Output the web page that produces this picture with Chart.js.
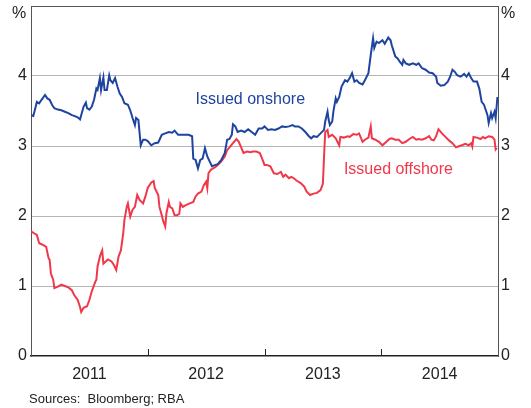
<!DOCTYPE html>
<html>
<head>
<meta charset="utf-8">
<script src="https://cdn.jsdelivr.net/npm/chart.js@4.4.0/dist/chart.umd.min.js"></script>
<style>
  html, body { margin: 0; padding: 0; background: #fff; }
  #wrap { position: relative; width: 531px; height: 408px; }
  #note { position: absolute; left: 29px; top: 391px; font: 13px "Liberation Sans", Arial, sans-serif; color: #222; white-space: pre; }
</style>
</head>
<body>
<div id="wrap">
  <canvas id="chart"></canvas>
  <div id="note">Sources:  Bloomberg; RBA</div>
</div>
<script>
const FONT = '"Liberation Sans", Arial, sans-serif';
const INK = "#222";
const BLUE = "#1f44a0";
const RED = "#f0384a";

const yearLabels = [2011, 2012, 2013, 2014];
const yearBreaks = [2012, 2013, 2014];

// yields, per cent; dates as decimal years
const onshoreDates = [
  2011.00, 2011.02, 2011.04, 2011.05, 2011.07, 2011.09, 2011.12, 2011.14, 2011.16, 2011.18,
  2011.20, 2011.23, 2011.26, 2011.29, 2011.32, 2011.35, 2011.37, 2011.40, 2011.42, 2011.43,
  2011.45, 2011.47, 2011.48, 2011.50, 2011.52, 2011.54, 2011.56, 2011.57, 2011.59, 2011.60,
  2011.62, 2011.63, 2011.65, 2011.67, 2011.68, 2011.70, 2011.72, 2011.74, 2011.76, 2011.78,
  2011.80, 2011.83, 2011.85, 2011.87, 2011.89, 2011.90, 2011.92, 2011.94, 2011.96, 2011.98,
  2012.00, 2012.03, 2012.06, 2012.09, 2012.12, 2012.15, 2012.18, 2012.21, 2012.23, 2012.26,
  2012.29, 2012.32, 2012.35, 2012.38, 2012.39, 2012.41, 2012.43, 2012.45, 2012.47, 2012.49,
  2012.51, 2012.53, 2012.55, 2012.58, 2012.60, 2012.63, 2012.66, 2012.68, 2012.70, 2012.72,
  2012.73, 2012.75, 2012.77, 2012.80, 2012.83, 2012.86, 2012.89, 2012.92, 2012.95, 2012.98,
  2013.00, 2013.03, 2013.06, 2013.09, 2013.12, 2013.15, 2013.18, 2013.21, 2013.24, 2013.26,
  2013.29, 2013.32, 2013.35, 2013.38, 2013.40, 2013.42, 2013.45, 2013.48, 2013.51, 2013.52,
  2013.54, 2013.55, 2013.56, 2013.58, 2013.59, 2013.61, 2013.62, 2013.64, 2013.66, 2013.69,
  2013.71, 2013.73, 2013.75, 2013.77, 2013.79, 2013.81, 2013.84, 2013.86, 2013.89, 2013.91,
  2013.93, 2013.94, 2013.96, 2013.98, 2014.01, 2014.03, 2014.06, 2014.08, 2014.09, 2014.12,
  2014.14, 2014.16, 2014.18, 2014.19, 2014.21, 2014.24, 2014.27, 2014.30, 2014.32, 2014.35,
  2014.38, 2014.41, 2014.44, 2014.47, 2014.48, 2014.51, 2014.54, 2014.57, 2014.59, 2014.61,
  2014.63, 2014.65, 2014.68, 2014.71, 2014.73, 2014.75, 2014.77, 2014.79, 2014.82, 2014.84,
  2014.86, 2014.88, 2014.89, 2014.91, 2014.92, 2014.94, 2014.95, 2014.97, 2014.98, 2014.995
];
const onshoreYields = [
  3.44, 3.43, 3.56, 3.63, 3.61, 3.66, 3.73, 3.68, 3.66, 3.59,
  3.54, 3.52, 3.51, 3.49, 3.47, 3.44, 3.43, 3.41, 3.38, 3.44,
  3.56, 3.62, 3.54, 3.52, 3.56, 3.66, 3.82, 3.80, 3.97, 3.80,
  3.98, 3.80, 3.80, 4.01, 3.94, 3.90, 3.97, 3.85, 3.75, 3.70,
  3.61, 3.59, 3.51, 3.40, 3.30, 3.40, 3.37, 3.01, 3.09, 3.09,
  3.07, 3.01, 3.04, 3.05, 3.16, 3.18, 3.20, 3.19, 3.22, 3.16,
  3.16, 3.16, 3.16, 3.14, 2.82, 2.80, 2.68, 2.80, 2.82, 2.97,
  2.85, 2.78, 2.71, 2.73, 2.74, 2.80, 2.90, 3.09, 3.10, 3.16,
  3.31, 3.28, 3.20, 3.22, 3.20, 3.24, 3.20, 3.16, 3.25, 3.25,
  3.28, 3.23, 3.24, 3.23, 3.25, 3.28, 3.27, 3.28, 3.30, 3.28,
  3.28, 3.25, 3.20, 3.14, 3.11, 3.14, 3.13, 3.18, 3.23, 3.35,
  3.49, 3.37, 3.30, 3.35, 3.49, 3.68, 3.63, 3.70, 3.85, 3.94,
  3.92, 3.97, 4.04, 3.92, 3.94, 3.90, 3.88, 3.94, 4.04, 4.30,
  4.54, 4.40, 4.49, 4.47, 4.51, 4.46, 4.55, 4.51, 4.44, 4.28,
  4.25, 4.20, 4.16, 4.23, 4.18, 4.16, 4.18, 4.16, 4.18, 4.11,
  4.09, 4.05, 4.04, 3.99, 3.90, 3.86, 3.87, 3.92, 3.99, 4.09,
  4.06, 4.01, 3.99, 4.03, 3.99, 4.04, 3.97, 3.92, 3.92, 3.82,
  3.63, 3.59, 3.54, 3.44, 3.33, 3.47, 3.40, 3.49, 3.40, 3.70
];

const offshoreDates = [
  2011.00, 2011.03, 2011.05, 2011.07, 2011.10, 2011.13, 2011.15, 2011.16, 2011.17, 2011.19,
  2011.20, 2011.23, 2011.26, 2011.29, 2011.32, 2011.35, 2011.37, 2011.40, 2011.42, 2011.43,
  2011.45, 2011.48, 2011.50, 2011.52, 2011.55, 2011.56, 2011.57, 2011.59, 2011.60, 2011.61,
  2011.62, 2011.64, 2011.66, 2011.69, 2011.71, 2011.73, 2011.75, 2011.77, 2011.79, 2011.80,
  2011.82, 2011.83, 2011.85, 2011.87, 2011.89, 2011.91, 2011.93, 2011.96, 2011.98, 2012.00,
  2012.03, 2012.05, 2012.06, 2012.09, 2012.10, 2012.12, 2012.13, 2012.15, 2012.16, 2012.18,
  2012.19, 2012.21, 2012.23, 2012.25, 2012.27, 2012.28, 2012.30, 2012.33, 2012.36, 2012.39,
  2012.41, 2012.43, 2012.46, 2012.48, 2012.50, 2012.51, 2012.52, 2012.54, 2012.56, 2012.58,
  2012.60, 2012.63, 2012.66, 2012.68, 2012.70, 2012.73, 2012.76, 2012.78, 2012.80, 2012.82,
  2012.85, 2012.88, 2012.90, 2012.93, 2012.96, 2012.98, 2013.00, 2013.02, 2013.05, 2013.08,
  2013.11, 2013.14, 2013.16, 2013.18, 2013.21, 2013.23, 2013.25, 2013.28, 2013.31, 2013.34,
  2013.36, 2013.39, 2013.42, 2013.45, 2013.48, 2013.50, 2013.51, 2013.52, 2013.54, 2013.55,
  2013.58, 2013.61, 2013.64, 2013.65, 2013.68, 2013.71, 2013.73, 2013.76, 2013.79, 2013.81,
  2013.84, 2013.86, 2013.89, 2013.91, 2013.92, 2013.95, 2013.98, 2014.01, 2014.03, 2014.07,
  2014.09, 2014.12, 2014.15, 2014.18, 2014.21, 2014.24, 2014.27, 2014.30, 2014.32, 2014.35,
  2014.38, 2014.41, 2014.43, 2014.45, 2014.47, 2014.49, 2014.52, 2014.55, 2014.58, 2014.61,
  2014.64, 2014.67, 2014.69, 2014.72, 2014.75, 2014.77, 2014.78, 2014.79, 2014.82, 2014.85,
  2014.87, 2014.89, 2014.92, 2014.95, 2014.97, 2014.98, 2014.99
];
const offshoreYields = [
  1.78, 1.75, 1.73, 1.61, 1.59, 1.56, 1.40, 1.37, 1.18, 1.09,
  0.97, 0.99, 1.02, 1.00, 0.98, 0.94, 0.87, 0.80, 0.70, 0.63,
  0.69, 0.71, 0.80, 0.92, 1.06, 1.09, 1.28, 1.42, 1.47, 1.51,
  1.32, 1.35, 1.38, 1.35, 1.30, 1.23, 1.42, 1.51, 1.75, 1.94,
  2.13, 2.18, 1.99, 2.09, 2.13, 2.30, 2.23, 2.18, 2.28, 2.40,
  2.48, 2.50, 2.40, 2.30, 2.13, 2.01, 1.94, 1.85, 2.04, 2.20,
  2.13, 2.11, 2.01, 2.01, 2.03, 2.18, 2.13, 2.16, 2.18, 2.20,
  2.28, 2.32, 2.35, 2.44, 2.49, 2.40, 2.61, 2.66, 2.68, 2.70,
  2.73, 2.78, 2.85, 2.94, 2.98, 3.04, 3.10, 3.06, 2.98, 2.90,
  2.92, 2.91, 2.92, 2.92, 2.90, 2.82, 2.73, 2.73, 2.71, 2.61,
  2.60, 2.63, 2.56, 2.59, 2.54, 2.56, 2.54, 2.50, 2.47, 2.42,
  2.35, 2.30, 2.32, 2.33, 2.37, 2.46, 2.85, 3.20, 3.23, 3.13,
  3.16, 3.11, 3.01, 3.13, 3.12, 3.14, 3.13, 3.17, 3.16, 3.18,
  3.06, 3.09, 3.12, 3.28, 3.11, 3.09, 3.06, 3.01, 3.04, 3.10,
  3.11, 3.09, 3.09, 3.04, 3.06, 3.10, 3.13, 3.09, 3.10, 3.09,
  3.11, 3.14, 3.09, 3.08, 3.14, 3.24, 3.18, 3.13, 3.08, 3.04,
  2.98, 3.00, 3.01, 3.03, 3.01, 3.04, 2.99, 3.13, 3.12, 3.10,
  3.13, 3.11, 3.14, 3.13, 3.09, 2.95, 2.97
];

const seriesLabels = [
  { text: "Issued onshore", x: 2012.41, y: 3.66, color: BLUE },
  { text: "Issued offshore", x: 2013.68, y: 2.66, color: RED }
];

function toPoints(xs, ys) {
  return xs.map((x, i) => ({ x, y: ys[i] }));
}

// year boundary ticks point up into the plot, plus series labels and % units
const chartDecor = {
  id: "chartDecor",
  afterDatasetsDraw(chart) {
    const { ctx, chartArea, scales } = chart;
    ctx.save();
    ctx.strokeStyle = INK;
    ctx.lineWidth = 1;
    for (const yr of yearBreaks) {
      const px = Math.round(scales.x.getPixelForValue(yr)) + 0.5;
      ctx.beginPath();
      ctx.moveTo(px, chartArea.bottom);
      ctx.lineTo(px, chartArea.bottom - 7);
      ctx.stroke();
    }
    ctx.font = "16px " + FONT;
    ctx.textBaseline = "middle";
    ctx.textAlign = "left";
    for (const l of seriesLabels) {
      ctx.fillStyle = l.color;
      ctx.fillText(l.text, scales.x.getPixelForValue(l.x), scales.y.getPixelForValue(l.y));
    }
    ctx.fillStyle = INK;
    ctx.textAlign = "center";
    ctx.fillText("%", chartArea.left - 12, chartArea.top + 8);
    ctx.fillText("%", chartArea.right + 10, chartArea.top + 8);
    ctx.restore();
  }
};

const tickFont = { family: FONT, size: 16 };
const hideTop = (v) => (v === 5 ? "" : v);

new Chart(document.getElementById("chart"), {
  type: "line",
  data: {
    datasets: [
      { label: "Issued onshore", data: toPoints(onshoreDates, onshoreYields), borderColor: BLUE, borderWidth: 2 },
      { label: "Issued offshore", data: toPoints(offshoreDates, offshoreYields), borderColor: RED, borderWidth: 2 }
    ]
  },
  options: {
    responsive: true,
    maintainAspectRatio: false,
    animation: false,
    layout: { padding: { top: 6, left: 0, right: 0, bottom: 0 } },
    elements: { point: { radius: 0 }, line: { tension: 0 } },
    plugins: { legend: { display: false }, tooltip: { enabled: false } },
    scales: {
      x: {
        type: "linear",
        min: 2011,
        max: 2015,
        afterBuildTicks: (axis) => {
          axis.ticks = yearLabels.map((y) => ({ value: y + 0.5 }));
        },
        ticks: {
          callback: (v) => String(Math.floor(v)),
          font: tickFont,
          color: INK,
          padding: 9,
          autoSkip: false,
          maxRotation: 0
        },
        grid: { display: false, drawTicks: false },
        border: { display: true, color: INK, width: 1.5 },
        afterFit: (axis) => { axis.height = 52; }
      },
      y: {
        position: "left",
        min: 0,
        max: 5,
        ticks: { stepSize: 1, callback: hideTop, font: tickFont, color: INK, padding: 4 },
        grid: {
          drawTicks: false,
          color: (c) => (c.tick.value === 5 ? "#555" : c.tick.value === 0 ? "rgba(0,0,0,0)" : "#b5b5b5")
        },
        border: { color: "#555", width: 1 },
        afterFit: (axis) => { axis.width = 31; axis.paddingTop = 0; axis.paddingBottom = 0; }
      },
      y2: {
        position: "right",
        min: 0,
        max: 5,
        ticks: { stepSize: 1, callback: hideTop, font: tickFont, color: INK, padding: 3 },
        grid: { drawOnChartArea: false, drawTicks: false },
        border: { color: "#555", width: 1 },
        afterFit: (axis) => { axis.width = 33; axis.paddingTop = 0; axis.paddingBottom = 0; }
      }
    }
  },
  plugins: [chartDecor]
});
</script>
</body>
</html>
